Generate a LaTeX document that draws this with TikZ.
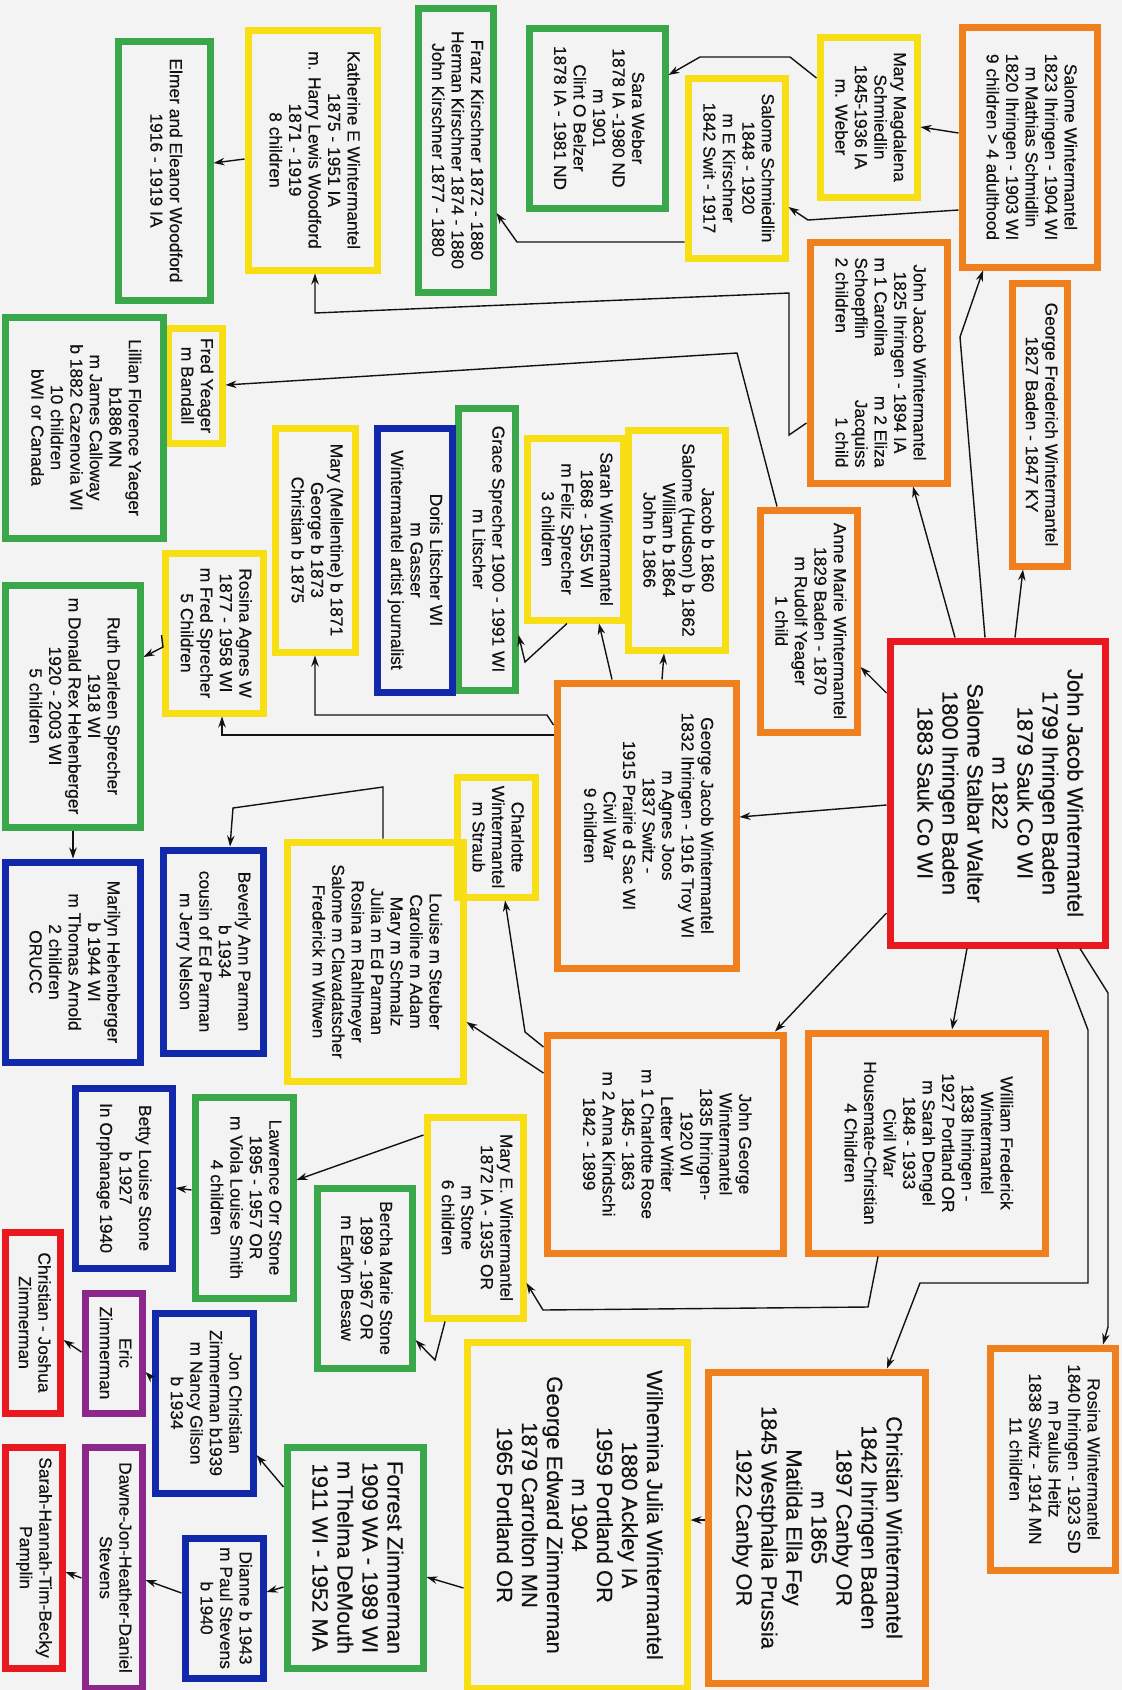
\documentclass[tikz,border=0pt]{standalone}
\usepackage{fontspec}
\setmainfont{Liberation Sans}[FakeBold=0.3]
\usepackage{graphicx}
\usetikzlibrary{arrows.meta}

\definecolor{paper}{RGB}{243,243,244}
\definecolor{kOrange}{RGB}{240,128,30}
\definecolor{kYellow}{RGB}{248,222,20}
\definecolor{kGreen}{RGB}{58,168,74}
\definecolor{kBlue}{RGB}{18,40,170}
\definecolor{kRed}{RGB}{232,24,30}
\definecolor{kPurple}{RGB}{140,40,140}
\definecolor{ink}{RGB}{18,18,18}

\newcommand\smalltxt{\fontsize{17.4}{19.5}\selectfont}
\newcommand\bigtxt{\fontsize{22}{25}\selectfont}

% family card: name, colour, x1, y1, x2, y2 (frame centre line), font, lines
\newcommand\famcard[8]{%
  \node[card, draw=#2, minimum width={#5-#3}, minimum height={#6-#4}]
    (#1) at ({(#3+#5)/2},{(#4+#6)/2})
    {\rotatebox{-90}{#7\begin{tabular}{@{}c@{}}#8\end{tabular}}};}

\tikzset{
  card/.style={rectangle, line width=7pt, inner sep=0pt, text=ink},
  link/.style={line width=1.4pt, draw=ink, line join=miter,
               -{Stealth[length=11pt,width=7.5pt]}},
}

\begin{document}
\begin{tikzpicture}[x=1pt,y=-1pt]
\useasboundingbox (0,0) rectangle (1122,1690);
\clip (0,0) rectangle (1122,1690);
\fill[paper] (0,0) rectangle (1122,1690);

% ---- first generation
\famcard{red}{kRed}{890}{641}{1105}{945}{\bigtxt}{John Jacob Wintermantel\\1799 Ihringen Baden\\1879 Sauk Co WI\\m 1822\\Salome Stalbar Walter\\1800 Ihringen Baden\\1883 Sauk Co WI}

% ---- children
\famcard{s1823}{kOrange}{962}{27}{1097}{267}{\smalltxt}{Salome Wintermantel\\1823 Ihringen  - 1904 WI\\m Mathias Schmidlin\\1820 Ihringen - 1903 WI\\9 children > 4 adulthood}
\famcard{gf}{kOrange}{1012}{283}{1067}{566}{\smalltxt}{George Frederich Wintermantel\\1827 Baden - 1847 KY}
\famcard{jj1825}{kOrange}{810}{242}{947}{483}{\smalltxt}{John Jacob Wintermantel\\1825 Ihringen - 1894 IA\\\makebox[210pt]{m 1 Carolina\hfill m 2 Eliza}\\\makebox[210pt]{Schoepflin\hfill Jacquiss}\\\makebox[210pt]{2 children\hfill 1 child}}
\famcard{am}{kOrange}{760}{510}{857}{732}{\smalltxt}{Anne Marie Wintermantel\\1829 Baden - 1870\\m Rudolf Yeager\\1 child}
\famcard{gj}{kOrange}{557}{683}{736}{968}{\smalltxt}{George Jacob Wintermantel\\1832 Ihringen - 1916 Troy WI\\m Agnes Joos\\1837 Switz -\\1915 Prairie d Sac WI\\Civil War\\9 children}
\famcard{jg}{kOrange}{547}{1035}{783}{1253}{\smalltxt}{John George\\Wintermantel\\1835 Ihringen-\\1920 WI\\Letter Writer\\m 1 Charlotte Rose\\1845 - 1863\\m 2 Anna Kindschi\\1842 - 1899}
\famcard{wf}{kOrange}{808}{1033}{1045}{1253}{\smalltxt}{William Frederick\\Wintermantel\\1838 Ihringen -\\1927 Portland OR\\m Sarah Dengel\\1848 - 1933\\Civil War\\Housemate-Christian\\4 Children}
\famcard{chr}{kOrange}{708}{1372}{925}{1683}{\bigtxt}{Christian Wintermantel\\1842 Ihringen Baden\\1897 Canby OR\\m 1865\\Matilda Ella Fey\\1845 Westphalia Prussia\\1922 Canby OR}
\famcard{ros}{kOrange}{990}{1348}{1115}{1570}{\smalltxt}{Rosina Wintermantel\\1840 Ihringen - 1923 SD\\m Paulus Heitz\\1838 Switz - 1914 MN\\11  children}

% ---- grandchildren
\famcard{mm}{kYellow}{820}{37}{917}{197}{\smalltxt}{Mary Magdalena\\Schmiedlin\\1845-1936 IA\\m. Weber}
\famcard{ss}{kYellow}{688}{78}{785}{258}{\smalltxt}{Salome Schmiedlin\\1848 - 1920\\m E Kirschner\\1842 Swit - 1917}
\famcard{kat}{kYellow}{248}{30}{377}{270}{\smalltxt}{Katherine E Wintermantel\\1875 - 1951 IA\\m. Harry Lewis Woodford\\1871 - 1919\\8 children}
\famcard{fy}{kYellow}{168}{328}{222}{443}{\smalltxt}{Fred Yeager\\m Bandall}
\famcard{jac}{kYellow}{628}{430}{725}{650}{\smalltxt}{Jacob b 1860\\Salome (Hudson) b 1862\\William b 1864\\John b 1866}
\famcard{sar}{kYellow}{527}{438}{623}{620}{\smalltxt}{Sarah Wintermantel\\1868 - 1955 WI\\m Feliz Sprecher\\3 children}
\famcard{mmel}{kYellow}{275}{428}{355}{652}{\smalltxt}{Mary (Mellentine) b 1871\\George b 1873\\Christian b 1875}
\famcard{ra}{kYellow}{165}{553}{263}{713}{\smalltxt}{Rosina Agnes W\\1877 - 1958 WI\\m Fred Sprecher\\5 Children}
\famcard{cha}{kYellow}{457}{777}{535}{897}{\smalltxt}{Charlotte\\Wintermantel\\m Straub}
\famcard{lou}{kYellow}{287}{842}{463}{1081}{\smalltxt}{Louise m Steuber\\Caroline m Adam\\Mary m Schmalz\\Julia m Ed Parman\\Rosina m Rahlmeyer\\Salome m Clavadatscher\\Frederick m Witwen}
\famcard{me}{kYellow}{427}{1117}{523}{1318}{\smalltxt}{Mary E. Wintermantel\\1872 IA - 1935 OR\\m Stone\\6 children}
\famcard{wil}{kYellow}{467}{1342}{687}{1688}{\bigtxt}{Wilhemina Julia Wintermantel\\1880 Ackley IA\\1959 Portland OR\\m 1904\\George Edward Zimmerman\\1879 Carrolton MN\\1965 Portland OR}

% ---- great-grandchildren
\famcard{sw}{kGreen}{529}{28}{665}{208}{\smalltxt}{Sara Weber\\1878 IA -1980 ND\\m 1901\\Clint O Belzer\\1878 IA - 1981 ND}
\famcard{fk}{kGreen}{418}{8}{493}{292}{\smalltxt}{Franz Kirschner 1872 - 1880\\Herman Kirschner 1874 - 1880\\John Kirschner 1877 - 1880}
\famcard{elm}{kGreen}{118}{41}{210}{300}{\smalltxt}{Elmer and Eleanor Woodford\\1916 - 1919 IA}
\famcard{lil}{kGreen}{5}{317}{163}{538}{\smalltxt}{Lillian Florence Yaeger\\b1886 MN\\m James Calloway\\b 1882 Cazenovia WI\\10 children\\bWI or Canada}
\famcard{gr}{kGreen}{458}{408}{515}{690}{\smalltxt}{Grace Sprecher 1900 - 1991 WI\\m Litscher}
\famcard{ruth}{kGreen}{5}{585}{140}{827}{\smalltxt}{Ruth Darleen Sprecher\\1918 WI\\m Donald Rex Hehenberger\\1920 - 2003 WI\\5 children}
\famcard{ber}{kGreen}{317}{1188}{412}{1368}{\smalltxt}{Bercha Marie Stone\\1899 - 1967 OR\\m Earlyn Besaw}
\famcard{law}{kGreen}{195}{1097}{293}{1298}{\smalltxt}{Lawrence Orr Stone\\1895 - 1957 OR\\m Viola Louise Smith\\4 children}
\famcard{for}{kGreen}{287}{1447}{423}{1668}{\bigtxt}{Forrest Zimmerman\\1909 WA - 1989 WI\\m Thelma DeMouth\\1911 WI - 1952 MA}

% ---- later generations
\famcard{dor}{kBlue}{377}{428}{452}{692}{\smalltxt}{Doris Litscher WI\\m Gasser\\Wintermantel artist journalist}
\famcard{mar}{kBlue}{5}{862}{140}{1062}{\smalltxt}{Marilyn Hehenberger\\b 1944 WI\\m Thomas Arnold\\2 children\\ORUCC}
\famcard{bev}{kBlue}{163}{850}{263}{1053}{\smalltxt}{Beverly Ann Parman\\b 1934\\cousin of Ed Parman\\m Jerry Nelson}
\famcard{bet}{kBlue}{75}{1088}{172}{1268}{\smalltxt}{Betty Louise Stone\\b 1927\\In Orphanage 1940}
\famcard{jon}{kBlue}{155}{1313}{253}{1493}{\smalltxt}{Jon Christian\\Zimmerman b1939\\m Nancy Gilson\\b 1934}
\famcard{di}{kBlue}{185}{1538}{263}{1678}{\smalltxt}{Dianne b 1943\\m Paul Stevens\\b 1940}
\famcard{eric}{kPurple}{85}{1293}{142}{1413}{\smalltxt}{Eric\\Zimmerman}
\famcard{daw}{kPurple}{85}{1447}{142}{1688}{\smalltxt}{Dawne-Jon-Heather-Daniel\\Stevens}
\famcard{cj}{kRed}{5}{1232}{60}{1413}{\smalltxt}{Christian - Joshua\\Zimmerman}
\famcard{sh}{kRed}{5}{1447}{62}{1668}{\smalltxt}{Sarah-Hannah-Tim-Becky\\Pamplin}

% ---- connectors from the couple
\draw[link] (red.north -| 985,0) -- (960,337) -- (s1823.south -| 983,0);
\draw[link] (red.north -| 955,0) -- (jj1825.south -| 913,0);
\draw[link] (red.north -| 1015,0) -- (gf.south -| 1023,0);
\draw[link] (red.west |- 0,693) -- (am.east |- 0,667);
\draw[link] (red.west |- 0,805) -- (gj.east |- 0,817);
\draw[link] (red.west |- 0,913) -- (jg.north -| 775,0);
\draw[link] (red.south -| 967,0) -- (wf.north -| 952,0);
\draw[link] (red.south -| 1057,0) -- (1088,1030) -- (1088,1283) -- (920,1283) -- (chr.north -| 887,0);
\draw[link] (red.south -| 1080,0) -- (1108,993) -- (1108,1327) -- (ros.north -| 1103,0);

% ---- Schmidlin branch
\draw[link] (s1823.west |- 0,133) -- (mm.east |- 0,127);
\draw[link] (s1823.west |- 0,210) -- (808,220) -- (ss.east |- 0,207);
\draw[link] (mm.west |- 0,78) -- (790,57) -- (700,57) -- (sw.east |- 0,75);
\draw[link] (ss.west |- 0,242) -- (517,242) -- (fk.east |- 0,213);

% ---- John Jacob and Anne Marie branches
\draw[link] (jj1825.west |- 0,423) -- (789,435) -- (789,293) -- (315,313) -- (kat.south -| 315,0);
\draw[link] (kat.west |- 0,159) -- (elm.east |- 0,163);
\draw[link] (am.north -| 777,0) -- (737,353) -- (fy.east |- 0,385);

% ---- George Jacob branch
\draw[link] (gj.north -| 662,0) -- (jac.south -| 664,0);
\draw[link] (gj.north -| 612,0) -- (sar.south -| 599,0);
\draw[link] (sar.south -| 567,0) -- (525,662) -- (gr.east |- 0,635);
\draw[link] (gj.west |- 0,725) -- (547,715) -- (315,715) -- (mmel.south -| 315,0);
\draw[link] (gj.west |- 0,735) -- (222,735) -- (ra.south -| 222,0);
\draw[link] (ra.west |- 0,635) -- (163,647) -- (ruth.east |- 0,657);
\draw[link] (ruth.south -| 73,0) -- (mar.north -| 73,0);

% ---- John George branch
\draw[link] (jg.west |- 0,1047) -- (525,1032) -- (cha.south -| 505,0);
\draw[link] (jg.west |- 0,1073) -- (lou.east |- 0,1022);
\draw[link] (lou.north -| 383,0) -- (383,787) -- (233,808) -- (bev.north -| 230,0);

% ---- William Frederick branch
\draw[link] (wf.south -| 878,0) -- (868,1307) -- (543,1310) -- (me.east |- 0,1283);
\draw[link] (me.south -| 445,0) -- (435,1360) -- (ber.east |- 0,1340);
\draw[link] (me.west |- 0,1135) -- (law.east |- 0,1180);
\draw[link] (law.west |- 0,1190) -- (bet.east |- 0,1188);

% ---- Christian branch
\draw[link] (chr.west |- 0,1520) -- (wil.east |- 0,1520);
\draw[link] (wil.west |- 0,1588) -- (for.east |- 0,1577);
\draw[link] (for.west |- 0,1487) -- (jon.east |- 0,1455);
\draw[link] (for.west |- 0,1587) -- (di.east |- 0,1592);
\draw[link] (jon.west |- 0,1378) -- (eric.east |- 0,1372);
\draw[link] (eric.west |- 0,1352) -- (cj.east |- 0,1340);
\draw[link] (di.west |- 0,1593) -- (daw.east |- 0,1580);
\draw[link] (daw.west |- 0,1578) -- (sh.east |- 0,1572);
\end{tikzpicture}
\end{document}
